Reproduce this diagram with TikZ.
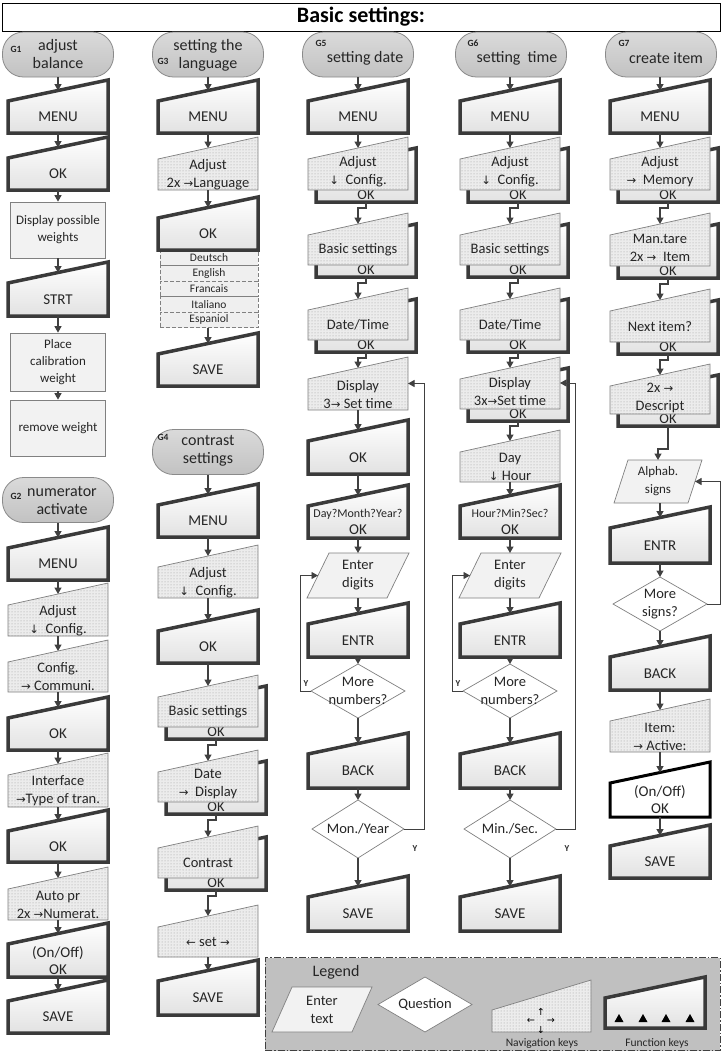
\documentclass[tikz,border=0pt]{standalone}
\usepackage{fontspec}
\setmainfont{Carlito}
\newfontfamily\djf{DejaVu Sans}[Scale=0.8]
\usetikzlibrary{arrows.meta,patterns,calc}
\definecolor{textc}{HTML}{262626}
\definecolor{fkline}{HTML}{3A3A3A}
\definecolor{fkbot}{HTML}{E2E2E2}
\definecolor{navline}{HTML}{808080}
\definecolor{navfill}{HTML}{ECECEC}
\definecolor{dotc}{HTML}{9A9A9A}
\definecolor{parafill}{HTML}{F2F2F2}
\definecolor{rectfill}{HTML}{F2F2F2}
\definecolor{termline}{HTML}{8A8A8A}
\definecolor{termtop}{HTML}{DADADA}
\definecolor{termbot}{HTML}{C2C2C2}
\definecolor{arrc}{HTML}{404040}
\definecolor{langfill}{HTML}{EFEFEF}
\definecolor{legfill}{HTML}{C0C0C0}
\definecolor{legline}{HTML}{404040}
\newcommand\arR{{\djf →}}
\newcommand\arL{{\djf ←}}
\newcommand\arD{{\djf ↓}}
\newcommand\arU{{\djf ↑}}
% function key: [style]{name}{cx}{top}{bottom}{text}
\newcommand\FK[6][]{%
  \draw[fk,#1] ({#3-50},#5) -- ({#3+50},#5) -- ({#3+50},#4) -- ({#3-50},{#4+21}) -- cycle;
  \node[ftxt] (#2) at (#3,{(#4+21+#5)/2}) {#6};
  \coordinate (#2-in) at (#3,{#4+10.5});
  \coordinate (#2-out) at (#3,#5);
}
% navigation key: [text options]{name}{cx}{top}{bottom}{text}
\newcommand\NAV[6][]{%
  \draw[nav] ({#3-50},#5) -- ({#3+50},#5) -- ({#3+50},#4) -- ({#3-50},{#4+22}) -- cycle;
  \node[txt,#1] (#2) at (#3,{(#4+22+#5)/2}) {#6};
  \coordinate (#2-in) at (#3,{#4+11});
  \coordinate (#2-out) at (#3,#5);
  \coordinate (#2-e) at ({#3+50},{(#4+#5)/2});
}
% navigation key with OK function key behind
\newcommand\NAVB[6][]{%
  \draw[fk] ({#3-42},{#5+12}) -- ({#3+58},{#5+12}) -- ({#3+58},{#4+11}) -- ({#3-42},{#4+32}) -- cycle;
  \node[txt,anchor=base] (#2-ok) at ({#3+8},{#5+9.5}) {OK};
  \NAV[#1]{#2}{#3}{#4}{#5}{#6}%
  \coordinate (#2-out) at ({#3+8},{#5+12});
}
% parallelogram: {name}{cx}{top}{bottom}{hw}{skew}{text}
\newcommand\PAR[7]{%
  \draw[para] ({#2-#5+#6},#3) -- ({#2+#5+#6},#3) -- ({#2+#5-#6},#4) -- ({#2-#5-#6},#4) -- cycle;
  \node[txt] (#1) at (#2,{(#3+#4)/2}) {#7};
  \coordinate (#1-in) at (#2,#3);
  \coordinate (#1-out) at (#2,#4);
  \coordinate (#1-w) at ({#2-#5},{(#3+#4)/2});
  \coordinate (#1-e) at ({#2+#5},{(#3+#4)/2});
}
% diamond: {name}{cx}{top}{bottom}{hw}{text}
\newcommand\DIA[6]{%
  \draw[dia] (#2,#3) -- ({#2+#5},{(#3+#4)/2}) -- (#2,#4) -- ({#2-#5},{(#3+#4)/2}) -- cycle;
  \node[txt] (#1) at (#2,{(#3+#4)/2}) {#6};
  \coordinate (#1-n) at (#2,#3);
  \coordinate (#1-s) at (#2,#4);
  \coordinate (#1-w) at ({#2-#5},{(#3+#4)/2});
  \coordinate (#1-e) at ({#2+#5},{(#3+#4)/2});
}
\begin{document}
\begin{tikzpicture}[x=1pt,y=-1pt,
  txt/.style={align=center,inner sep=0pt,text=textc,font=\fontsize{14.5}{18}\selectfont},
  ftxt/.style={align=center,inner sep=0pt,text=textc,font=\fontsize{15}{17}\selectfont},
  fk/.style={draw=fkline,line width=3.5pt,top color=white,bottom color=fkbot},
  fkblack/.style={draw=black,line width=3pt,top color=white,bottom color=white},
  nav/.style={draw=navline,line width=0.7pt,preaction={fill=navfill},pattern=dots,pattern color=dotc},
  para/.style={draw=navline,line width=0.7pt,fill=parafill},
  dia/.style={draw=navline,line width=0.7pt,fill=white},
  rbox/.style={draw=navline,line width=0.7pt,fill=rectfill,minimum width=95pt,inner sep=0pt,align=center,text=textc,font=\fontsize{13}{17}\selectfont},
  term/.style={draw=termline,line width=0.8pt,top color=termtop,bottom color=termbot,rounded corners=21pt,minimum width=111pt,minimum height=45pt,inner sep=0pt},
  ttxt/.style={align=center,inner sep=0pt,text=textc,font=\fontsize{16}{18}\selectfont},
  glab/.style={inner sep=0pt,text=textc,font=\bfseries\fontsize{9.5}{10}\selectfont},
  lang/.style={draw=navline,dash pattern=on 4pt off 2pt,line width=0.7pt,fill=langfill,minimum width=98pt,minimum height=15.5pt,inner sep=0pt,text=textc,font=\fontsize{11.5}{13}\selectfont},
  arr/.style={draw=arrc,line width=1.3pt,-{Triangle[width=7pt,length=6.5pt]}},
  lp/.style={draw=arrc,line width=0.9pt,-{Triangle[width=7pt,length=6.5pt]}},
  ylab/.style={inner sep=0pt,text=textc,font=\bfseries\fontsize{9}{9}\selectfont},
  sm/.style={inner sep=0pt,text=textc,font=\fontsize{11.5}{13}\selectfont},
  up/.style={yshift=2.5pt}]
\useasboundingbox (0,0) rectangle (723,1053);
\fill[white] (0,0) rectangle (723,1053);

% title
\node[draw=black,line width=1pt,minimum width=718pt,minimum height=28pt,inner sep=0pt,font=\bfseries\fontsize{22}{26}\selectfont] (title) at (361,17) {Basic settings:};

% ===== Column 1: G1 =====
\node[term] (T1) at (58,54.5) {};
\node[ttxt] (T1t) at (58,54) {adjust\\balance};
\node[glab] (G1) at (16,49) {G1};
\FK{m1}{58}{80}{133}{MENU}
\FK{ok1}{58}{137}{190}{OK}
\node[rbox,minimum height=56pt] (disp1) at (58,230) {Display possible\\weights};
\FK{strt}{58}{262}{316}{STRT}
\node[rbox,minimum height=58pt] (place) at (58,362) {Place\\calibration\\weight};
\node[rbox,minimum height=56pt] (remw) at (58,428) {remove weight};
\draw[arr] (T1.south) -- (m1-in);
\draw[arr] (m1-out) -- (ok1-in);
\draw[arr] (ok1-out) -- (disp1.north);
\draw[arr] (disp1.south) -- (strt-in);
\draw[arr] (strt-out) -- (place.north);
\draw[arr] (place.south) -- (remw.north);

% ===== Column 1: G2 =====
\node[term] (T2) at (58,500) {};
\node[ttxt] (T2t) at (62,500) {numerator\\activate};
\node[glab] (G2) at (16,496) {G2};
\FK{m2}{58}{527}{580}{MENU}
\NAV{adj2}{58}{583}{636}{Adjust\\\arD\ \ Config.}
\NAV{conf2}{58}{640}{692}{Config.\\\arR\ Communi.}
\FK{ok2}{58}{697}{750}{OK}
\NAV{intf}{58}{753}{807}{Interface\\\arR Type of tran.}
\FK{ok3}{58}{810}{862}{OK}
\NAV{auto}{58}{867}{920}{Auto pr\\2x \arR Numerat.}
\FK{onoff1}{58}{923}{977}{(On/Off)\\OK}
\FK{save1}{58}{980}{1033}{SAVE}
\draw[arr] (T2.south) -- (m2-in);
\draw[arr] (m2-out) -- (adj2-in);
\draw[arr] (adj2-out) -- (conf2-in);
\draw[arr] (conf2-out) -- (ok2-in);
\draw[arr] (ok2-out) -- (intf-in);
\draw[arr] (intf-out) -- (ok3-in);
\draw[arr] (ok3-out) -- (auto-in);
\draw[arr] (auto-out) -- (onoff1-in);
\draw[arr] (onoff1-out) -- (save1-in);

% ===== Column 2: G3 =====
\node[term] (T3) at (208,54.5) {};
\node[ttxt] (T3t) at (208,55) {setting the\\language};
\node[glab] (G3) at (163,61) {G3};
\FK{m3}{208}{80}{133}{MENU}
\NAV{adj3}{208}{137}{190}{Adjust\\2x \arR Language}
\node[lang] (de) at (209,257.75) {Deutsch};
\node[lang] (en) at (209,273.25) {English};
\node[lang] (fr) at (209,288.75) {Francais};
\node[lang] (it) at (209,304.25) {Italiano};
\node[lang] (es) at (209,319.75) {Espaniol};
\FK{ok4}{208}{197}{250}{OK}
\FK{save3}{208}{333}{386}{SAVE}
\draw[arr] (T3.south) -- (m3-in);
\draw[arr] (m3-out) -- (adj3-in);
\draw[arr] (adj3-out) -- (ok4-in);
\draw[arr] (es.south -| save3-in) -- (save3-in);

% ===== Column 2: G4 =====
\node[term] (T4) at (208,452) {};
\node[ttxt] (T4t) at (208,451) {contrast\\settings};
\node[glab] (G4) at (163,437) {G4};
\FK{m4}{208}{484}{537}{MENU}
\NAV{adj4}{208}{545}{598}{Adjust\\\arD\ \ Config.}
\FK{ok5}{208}{610}{663}{OK}
\NAVB{bs4}{208}{675}{727}{Basic settings}
\NAVB[up]{dd4}{208}{750}{802}{Date\\\arR\ \ Display}
\NAVB{con4}{208}{826}{878}{Contrast}
\NAV{set4}{208}{905}{957}{\arL\ set \arR}
\FK{save4}{208}{960}{1015}{SAVE}
\draw[arr] (T4.south) -- (m4-in);
\draw[arr] (m4-out) -- (adj4-in);
\draw[arr] (adj4-out) -- (ok5-in);
\draw[arr] (ok5-out) -- (bs4-in);
\draw[arr] (bs4-out) -- ++(0,6) -| (dd4-in);
\draw[arr] (dd4-out) -- ++(0,6) -| (con4-in);
\draw[arr] (con4-out) -- ++(0,6) -| (set4-in);
\draw[arr] (set4-out) -- (save4-in);

% ===== Column 3: G5 =====
\node[term] (T5) at (358,54.5) {};
\node[ttxt] (T5t) at (365,58) {setting date};
\node[glab] (G5) at (321,43) {G5};
\FK{m5}{358}{80}{133}{MENU}
\NAVB[up]{adj5}{358}{137}{190}{Adjust\\\arD\ \ Config.}
\NAVB{bs5}{358}{213}{265}{Basic settings}
\NAVB{dt5}{358}{288}{340}{Date/Time}
\NAV{dsp5}{358}{357}{410}{Display\\3\arR\ Set time}
\FK{ok6}{358}{420}{474}{OK}
\FK{dmy}{358}{485}{538}{{\fontsize{12}{15}\selectfont Day?Month?Year?}\\OK}
\PAR{ed5}{358}{553}{598}{40}{11}{Enter\\digits}
\FK{entr5}{358}{603}{657}{ENTR}
\DIA{mn5}{358}{664}{718}{47}{More\\numbers?}
\FK{back5}{358}{733}{788}{BACK}
\DIA{my}{358}{800}{858}{46}{Mon./Year}
\FK{save5}{358}{876}{931}{SAVE}
\draw[arr] (T5.south) -- (m5-in);
\draw[arr] (m5-out) -- (adj5-in);
\draw[arr] (adj5-out) -- ++(0,6) -| (bs5-in);
\draw[arr] (bs5-out) -- ++(0,6) -| (dt5-in);
\draw[arr] (dt5-out) -- ++(0,6) -| (dsp5-in);
\draw[arr] (dsp5-out) -- (ok6-in);
\draw[arr] (ok6-out) -- (dmy-in);
\draw[arr] (dmy-out) -- (ed5-in);
\draw[arr] (ed5-out) -- (entr5-in);
\draw[arr] (entr5-out) -- (mn5-n);
\draw[arr] (mn5-s) -- (back5-in);
\draw[arr] (back5-out) -- (my-n);
\draw[arr] (my-s) -- (save5-in);
\draw[lp] (mn5-w) -- ++(-11,0) |- (ed5-w);
\draw[lp] (my-e) -- ++(20,0) |- (dsp5-e);
\node[ylab] (y5a) at (306,684) {Y};
\node[ylab] (y5b) at (415,849) {Y};

% ===== Column 4: G6 =====
\node[term] (T6) at (511,54.5) {};
\node[ttxt] (T6t) at (517,58) {setting\ \ time};
\node[glab] (G6) at (473,43) {G6};
\FK{m6}{510}{80}{133}{MENU}
\NAVB[up]{adj6}{510}{137}{190}{Adjust\\\arD\ \ Config.}
\NAVB{bs6}{510}{213}{265}{Basic settings}
\NAVB{dt6}{510}{288}{340}{Date/Time}
\NAVB[up]{dsp6}{510}{357}{409}{Display\\3x\arR Set time}
\NAV{dh}{510}{430}{482}{Day\\\arD\ Hour}
\FK{hms}{510}{485}{538}{{\fontsize{12}{15}\selectfont Hour?Min?Sec?}\\OK}
\PAR{ed6}{510}{553}{598}{40}{11}{Enter\\digits}
\FK{entr6}{510}{603}{657}{ENTR}
\DIA{mn6}{510}{664}{718}{47}{More\\numbers?}
\FK{back6}{510}{733}{788}{BACK}
\DIA{msec}{510}{800}{858}{46}{Min./Sec.}
\FK{save6}{510}{876}{931}{SAVE}
\draw[arr] (T6.south -| m6-in) -- (m6-in);
\draw[arr] (m6-out) -- (adj6-in);
\draw[arr] (adj6-out) -- ++(0,6) -| (bs6-in);
\draw[arr] (bs6-out) -- ++(0,6) -| (dt6-in);
\draw[arr] (dt6-out) -- ++(0,6) -| (dsp6-in);
\draw[arr] (dsp6-out) -- ++(0,5) -| (dh-in);
\draw[arr] (dh-out) -- (hms-in);
\draw[arr] (hms-out) -- (ed6-in);
\draw[arr] (ed6-out) -- (entr6-in);
\draw[arr] (entr6-out) -- (mn6-n);
\draw[arr] (mn6-s) -- (back6-in);
\draw[arr] (back6-out) -- (msec-n);
\draw[arr] (msec-s) -- (save6-in);
\draw[lp] (mn6-w) -- ++(-11,0) |- (ed6-w);
\draw[lp] (msec-e) -- ++(19,0) |- (dsp6-e);
\node[ylab] (y6a) at (458,684) {Y};
\node[ylab] (y6b) at (567,849) {Y};

% ===== Column 5: G7 =====
\node[term] (T7) at (661,54.5) {};
\node[ttxt] (T7t) at (666,58) {create item};
\node[glab] (G7) at (624,43) {G7};
\FK{m7}{660}{80}{133}{MENU}
\NAVB[up]{adj7}{660}{137}{190}{Adjust\\\arR\ \ Memory}
\NAVB[up]{mt}{660}{213}{266}{Man.tare\\2x \arR\ \ Item}
\NAVB{ni}{660}{289}{342}{Next item?}
\NAVB[up]{desc}{660}{364}{414}{2x \arR\\Descript}
\PAR{alph}{658}{460}{503}{37}{7}{{\fontsize{13}{17}\selectfont Alphab.}\\{\fontsize{13}{17}\selectfont signs}}
\FK{entr7}{660}{507}{563}{ENTR}
\DIA{ms7}{660}{577}{631}{47}{More\\signs?}
\FK{back7}{660}{636}{690}{BACK}
\NAV{item}{660}{699}{752}{Item:\\\arR\ Active:}
\FK[fkblack]{onoff7}{660}{762}{817}{(On/Off)\\OK}
\FK{save7}{660}{825}{878}{SAVE}
\draw[arr] (T7.south -| m7-in) -- (m7-in);
\draw[arr] (m7-out) -- (adj7-in);
\draw[arr] (adj7-out) -- ++(0,6) -| (mt-in);
\draw[arr] (mt-out) -- ++(0,6) -| (ni-in);
\draw[arr] (ni-out) -- ++(0,6) -| (desc-in);
\draw[arr] (desc-out) -- ++(0,23) -| (alph-in);
\draw[arr] (alph-out -| entr7-in) -- (entr7-in);
\draw[arr] (entr7-out) -- (ms7-n);
\draw[arr] (ms7-s) -- (back7-in);
\draw[arr] (back7-out) -- (item-in);
\draw[arr] (item-out) -- (onoff7-in);
\draw[arr] (onoff7-out) -- (save7-in);
\draw[lp] (ms7-e) -- ++(13,0) |- (alph-e);

% ===== Legend =====
\node[draw=legline,line width=0.8pt,dash pattern=on 7pt off 2pt on 1.5pt off 2pt,fill=legfill,minimum width=455pt,minimum height=93pt,inner sep=0pt] (legend) at (492.5,1004) {};
\node[inner sep=0pt,text=textc,font=\fontsize{16}{18}\selectfont] (legt) at (336,972) {Legend};
\PAR{lpar}{322}{987}{1032}{40}{10}{Enter\\text}
\DIA{ldia}{425}{977}{1032}{47}{Question}
\draw[nav] (492,1032) -- (591,1032) -- (591,980) -- (492,1010) -- cycle;
\node[inner sep=0pt,font=\fontsize{12}{12}\selectfont] (lu) at (541,1012) {\arU};
\node[inner sep=0pt,font=\fontsize{12}{12}\selectfont] (ll) at (531,1021) {\arL};
\node[inner sep=0pt,font=\fontsize{12}{12}\selectfont] (lr) at (551,1021) {\arR};
\node[inner sep=0pt,font=\fontsize{12}{12}\selectfont] (ld) at (541,1030) {\arD};
\node[sm] (lnavl) at (542,1043) {Navigation keys};
\draw[fk] (605,1028) -- (705,1028) -- (705,977) -- (605,998) -- cycle;
\foreach \i/\xx in {1/619,2/643,3/666,4/690}{
  \fill[black] (\xx-4.5,1022) -- (\xx+4.5,1022) -- (\xx,1014) -- cycle;
}
\node[sm] (lfkl) at (657,1043) {Function keys};
\end{tikzpicture}
\end{document}
